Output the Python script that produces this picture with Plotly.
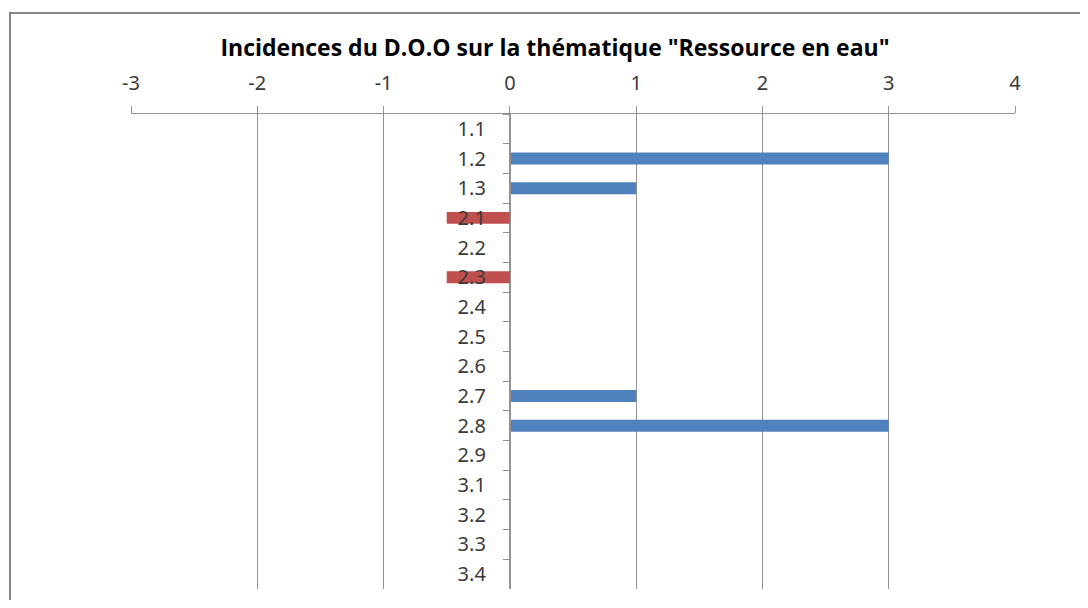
import plotly.graph_objects as go

categories = ["1.1", "1.2", "1.3", "2.1", "2.2", "2.3", "2.4", "2.5", "2.6",
              "2.7", "2.8", "2.9", "3.1", "3.2", "3.3", "3.4"]
values = [0, 3, 1, -0.5, 0, -0.5, 0, 0, 0, 1, 3, 0, 0, 0, 0, 0]
x_ticks = [-3, -2, -1, 0, 1, 2, 3, 4]
title_text = 'Incidences du D.O.O sur la thématique "Ressource en eau"'

colors = ["#C0504D" if v < 0 else "#4F81BD" for v in values]

fig = go.Figure(go.Bar(
    y=categories, x=values, orientation="h",
    marker=dict(color=colors, line=dict(width=0)),
))

# page body has an 8px margin; work in figure coordinates (screen - 8)
OFF = 8
W, H = 1072, 592
ml = 131 - OFF
mr = W - (1015 - OFF)
mt = 114 - OFF
mb = H - (589 - OFF)
pw, ph = W - ml - mr, H - mt - mb

def px_x(p):
    return (p - OFF - ml) / pw

def px_y(p):
    return (H - mb - (p - OFF)) / ph

fig.update_layout(
    width=W, height=H,
    margin=dict(l=ml, r=mr, t=mt, b=mb, pad=0),
    paper_bgcolor="white", plot_bgcolor="white",
    showlegend=False,
    bargap=0.6,
    font=dict(family="Noto Sans, Open Sans, sans-serif", color="#3a3a3a", size=20),
    title=dict(text="<b>" + title_text + "</b>", x=px_x(555), xref="paper",
               xanchor="center", y=1 - (48 - OFF) / H, yanchor="middle",
               font=dict(size=23, color="#000000", family="Open Sans, Noto Sans, sans-serif")),
    xaxis=dict(
        side="top", range=[-3, 4], tickvals=x_ticks, ticktext=[str(t) for t in x_ticks],
        showgrid=True, gridcolor="#939393", gridwidth=1,
        showline=True, linecolor="#939393", linewidth=1,
        ticks="outside", ticklen=7, tickcolor="#939393",
        zeroline=False, ticklabelstandoff=8,
        tickfont=dict(size=20, color="#3a3a3a"),
    ),
    yaxis=dict(
        type="category", categoryorder="array", categoryarray=categories,
        autorange="reversed",
        anchor="free", position=3 / 7,
        showgrid=False, showline=True, linecolor="#939393", linewidth=1,
        ticks="outside", ticklen=7, tickcolor="#939393", tickson="boundaries",
        ticklabelstandoff=20, zeroline=False,
        tickfont=dict(size=20, color="#3a3a3a"),
    ),
    shapes=[dict(type="rect", xref="paper", yref="paper",
                 x0=px_x(10), y0=px_y(660), x1=px_x(1140), y1=px_y(13),
                 line=dict(color="#878787", width=2), fillcolor="rgba(0,0,0,0)",
                 layer="below")],
)

fig.write_html("out.html")
